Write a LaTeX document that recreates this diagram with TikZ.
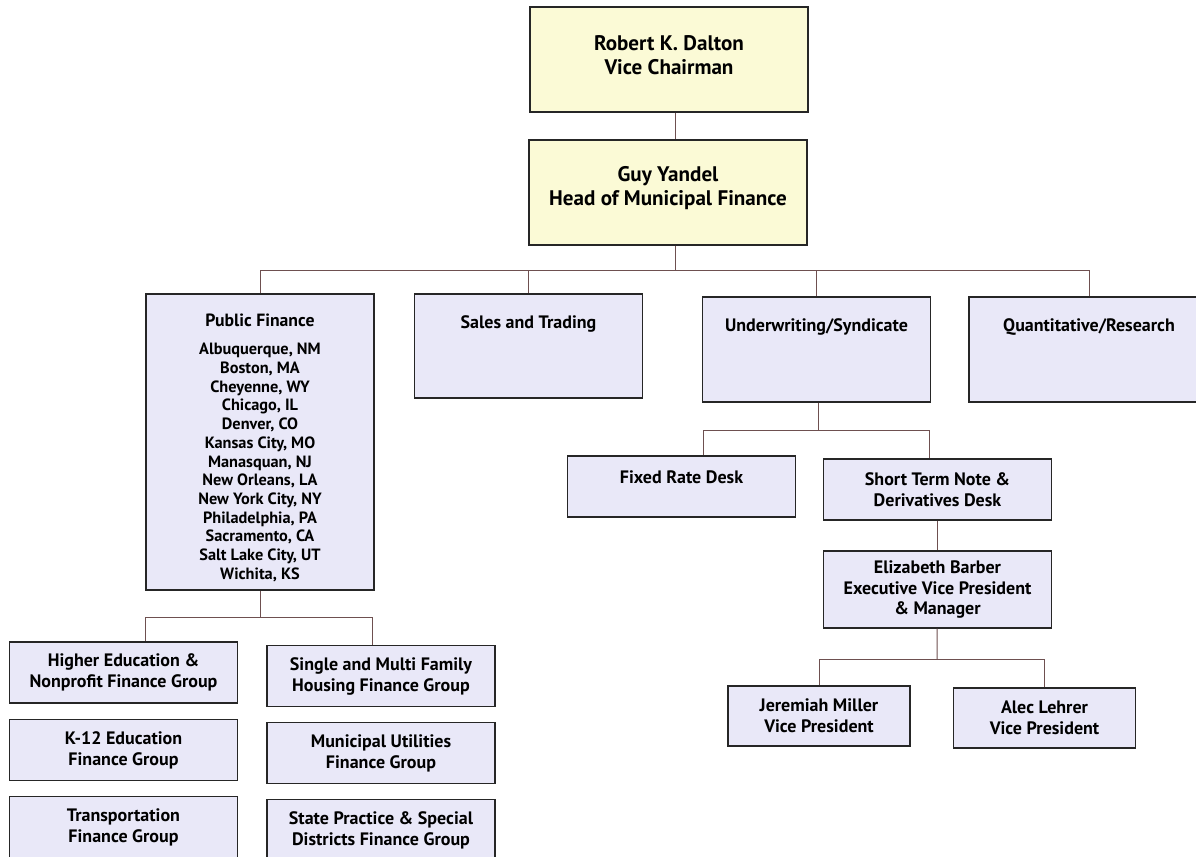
\documentclass[tikz,border=0pt]{standalone}
\usepackage{fontspec}
\setmainfont{PT Sans}
\usetikzlibrary{positioning}
\definecolor{boxblue}{HTML}{E9E8F8}
\definecolor{boxyellow}{HTML}{FBFAD6}
\definecolor{linkcol}{HTML}{6E5050}

\begin{document}
\begin{tikzpicture}[x=0.025cm, y=-0.025cm,
	box/.style={draw=black!85, line width=1pt, fill=boxblue, minimum width=5.7cm, minimum height=1.525cm, inner sep=0, align=center, font=\bfseries\fontsize{12.8}{14.9}\selectfont},
	headbox/.style={box, fill=boxyellow, minimum width=6.95cm, minimum height=2.625cm, font=\bfseries\fontsize{15}{17}\selectfont},
	boxtext/.style={inner sep=0, align=center, font=\bfseries\fontsize{12.8}{14.9}\selectfont},
	link/.style={draw=linkcol, line width=0.7pt}
]
\useasboundingbox (0,0) rectangle (1196,856);
\clip (0,0) rectangle (1196,856);

% top of the chart
\node[headbox, text depth=6.5pt] (dalton) at (669,59.5) {Robert K. Dalton\\Vice Chairman};
\node[headbox, text depth=9.5pt] (yandel) at (668,192.5) {Guy Yandel\\Head of Municipal Finance};

% second level
\node[box, minimum height=7.4cm] (pf) at (260,442) {};
\node[boxtext, below=0.52cm of pf.north, font=\bfseries\fontsize{11.6}{13.3}\selectfont] (pf-t) {{\fontsize{12.6}{13.3}\selectfont Public Finance}\\[6.5pt]
	Albuquerque, NM\\Boston, MA\\Cheyenne, WY\\Chicago, IL\\Denver, CO\\Kansas City, MO\\Manasquan, NJ\\
	New Orleans, LA\\New York City, NY\\Philadelphia, PA\\Sacramento, CA\\Salt Lake City, UT\\Wichita, KS};
\node[box, minimum height=2.6cm] (sales) at (528.5,346) {};
\node[boxtext, below=0.55cm of sales.north] (sales-t) {Sales and Trading};
\node[box, minimum height=2.625cm] (uw) at (816.5,349.5) {};
\node[boxtext, below=0.55cm of uw.north] (uw-t) {Underwriting/Syndicate};
\node[box, minimum width=6cm, minimum height=2.625cm] (quant) at (1089,349.5) {};
\node[boxtext, below=0.55cm of quant.north] (quant-t) {Quantitative/Research};

% desks
\node[box] (fixed) at (681.5,486.5) {};
\node[boxtext, below=0.375cm of fixed.north] (fixed-t) {Fixed Rate Desk};
\node[box] (short) at (937.5,489.5) {Short Term Note \&\\Derivatives Desk};
\node[box, minimum height=1.925cm] (barber) at (937.5,589.5) {Elizabeth Barber\\Executive Vice President\\\& Manager};
\node[box, minimum width=4.55cm, minimum height=1.5cm] (miller) at (819,716) {Jeremiah Miller\\Vice President};
\node[box, minimum width=4.55cm, minimum height=1.5cm] (lehrer) at (1044.5,718) {Alec Lehrer\\Vice President};

% finance groups
\node[box] (hied) at (123.5,672.5) {Higher Education \&\\Nonprofit Finance Group};
\node[box] (single) at (381,676) {Single and Multi Family\\Housing Finance Group};
\node[box] (k12) at (123.5,750) {K-12 Education\\Finance Group};
\node[box] (util) at (381,753) {Municipal Utilities\\Finance Group};
\node[box] (transp) at (123.5,827) {Transportation\\Finance Group};
\node[box] (state) at (381,830) {State Practice \& Special\\Districts Finance Group};

% connectors
\coordinate (top-bus) at (675,270);
\coordinate (uw-bus) at (818,430);
\coordinate (eb-bus) at (937,659);
\coordinate (pf-bus) at (260,617);
\draw[link] (dalton.south -| top-bus) -- (yandel.north -| top-bus);
\draw[link] (yandel.south -| top-bus) -- (top-bus);
\draw[link] (top-bus) -| (pf);
\draw[link] (top-bus) -| (sales);
\draw[link] (top-bus) -| (uw);
\draw[link] (top-bus) -| (quant);
\draw[link] (uw.south -| uw-bus) -- (uw-bus);
\draw[link] (uw-bus) -| ([xshift=0.54cm]fixed.north);
\draw[link] (uw-bus) -| ([xshift=-0.21cm]short.north);
\draw[link] (short) -- (barber);
\draw[link] (barber) -- (eb-bus);
\draw[link] (eb-bus) -| (miller);
\draw[link] (eb-bus) -| (lehrer);
\draw[link] (pf) -- (pf-bus);
\draw[link] (pf-bus) -| ([xshift=0.54cm]hied.north);
\draw[link] (pf-bus) -| ([xshift=-0.22cm]single.north);
\end{tikzpicture}
\end{document}
